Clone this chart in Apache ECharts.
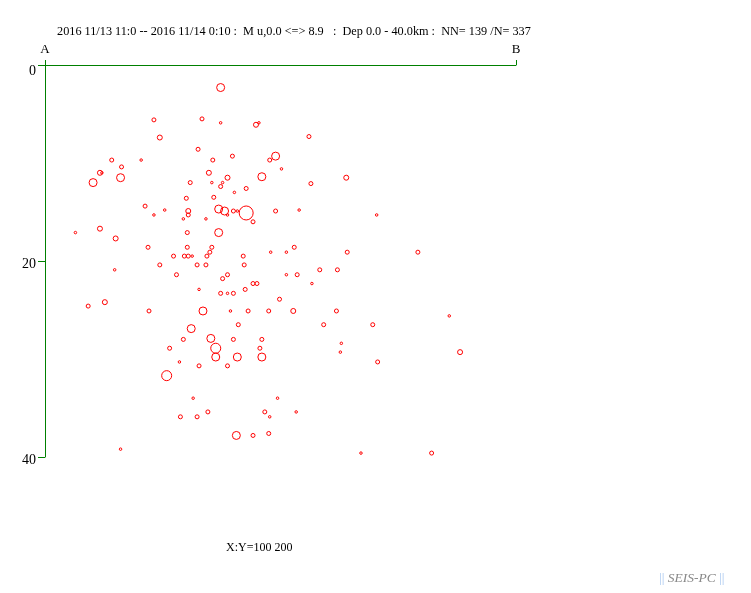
<!DOCTYPE html>
<html>
<head>
<meta charset="utf-8">
<script src="https://cdn.jsdelivr.net/npm/echarts@6/dist/echarts.min.js"></script>
<style>html,body{margin:0;padding:0;background:#fff}#c{width:751px;height:593px}</style>
</head>
<body>
<div id="c"></div>
<script>
// Distance along profile A-B (km)
const distKm = [17.9,11.1,16.0,17.9,21.5,21.8,11.7,15.6,6.8,9.8,17.1,19.1,22.9,5.6,5.8,7.8,7.7,4.9,16.7,18.6,
17.0,18.1,17.9,14.8,19.3,20.5,22.1,14.4,17.2,26.9,23.5,24.1,27.1,30.7,10.2,11.1,12.2,14.6,14.6,14.1,
17.7,18.3,16.4,19.2,19.6,20.5,18.6,21.2,3.1,5.6,7.2,14.5,17.7,10.5,14.5,17.0,16.8,13.1,14.2,14.6,
15.0,16.5,20.2,11.7,15.5,16.4,20.3,7.1,13.4,18.1,18.6,15.7,20.4,21.2,21.6,17.9,18.6,19.2,4.4,6.1,
10.6,16.1,18.9,20.7,22.8,19.7,14.9,23.5,25.9,33.8,25.4,23.0,24.6,30.8,38.0,28.0,29.8,24.6,25.7,27.2,
23.9,25.3,29.7,41.2,28.4,33.4,14.1,16.9,19.2,22.1,12.7,17.4,17.4,19.6,21.9,22.1,13.7,15.7,18.6,12.4,
15.1,16.6,13.8,15.5,22.4,22.9,22.8,19.5,21.2,7.7,30.2,30.1,42.3,33.9,23.7,25.6,32.2,39.4];
// Depth (km)
const depthKm = [2.3,5.6,5.5,5.9,6.1,5.9,7.4,8.6,9.7,9.7,9.7,9.3,9.7,11.0,11.0,10.4,11.5,12.0,11.0,11.5,
12.0,12.0,12.4,12.0,13.0,12.6,11.4,13.6,13.5,7.3,9.3,10.6,12.1,11.5,14.4,15.3,14.8,14.9,15.3,15.7,
14.7,14.9,15.7,14.9,14.9,15.1,15.3,16.0,17.1,16.7,17.7,17.1,17.1,18.6,18.6,18.6,19.1,19.5,19.5,19.5,
19.5,19.5,19.5,20.4,20.4,20.4,20.4,20.9,21.4,21.8,21.4,22.9,22.9,22.3,22.3,23.3,23.3,23.3,24.6,24.2,
25.1,25.1,25.1,25.1,25.1,26.5,26.9,14.9,14.8,15.3,18.6,19.1,19.1,19.1,19.1,20.9,20.9,21.4,21.4,22.3,
23.9,25.1,25.1,25.6,26.5,26.5,28.0,27.9,28.0,28.0,28.9,28.9,29.8,29.8,28.9,29.8,30.3,30.7,30.7,31.7,
34.0,35.4,35.9,35.9,35.4,35.9,37.6,37.8,37.8,39.2,28.4,29.3,29.3,30.3,34.0,35.4,39.6,39.6];
// Magnitude (estimated from circle size)
const mags = [3.5,2,2,1,2.5,1,2.5,2,2,1,2,2,2,2.5,1,2,3.5,3.5,2.5,2.5,
1,1,2,2,1,2,3.5,2,2,2,3.5,1,2,2.5,2,1,1,2.5,2,1,
3.5,3.5,1,2,1,5,1,2,1,2.5,2.5,2,3.5,2,2,2,2,2,2,2,
1,2,2,2,2,2,2,1,2,2,2,1,2,2,2,2,1,2,2,2.5,
2,3.5,1,2,2,2,3.5,2,1,1,2,1,1,2,2,2,2,1,2,1,
2,2.5,2,1,2,2,2,3.5,2,2,2,4,3.5,3.5,2,3.5,1,2,2,4,
1,2,2,2,2,1,2,3.5,2,1,1,1,2.5,2,1,1,1,2];
const yTicks = [0, 20, 40];
const endLabels = ['A', 'B'];
const profileLen = 48;
const titleText = '2016 11/13 11:0 -- 2016 11/14 0:10 :  M u,0.0 <=> 8.9   :  Dep 0.0 - 40.0km :  NN= 139 /N= 337';
const ratioText = 'X:Y=100 200';

function sizeFor(m) {
  if (m >= 5) return 14;
  if (m >= 4) return 10;
  if (m >= 3.5) return 8;
  if (m >= 2.5) return 5;
  if (m >= 2) return 4;
  return 2.5;
}

const data = distKm.map((x, i) => [x, depthKm[i], mags[i]]);
const green = '#008000';
const serif = '"Liberation Serif", "DejaVu Serif", serif';

const chart = echarts.init(document.getElementById('c'), null, {renderer: 'canvas'});
chart.setOption({
  animation: false,
  backgroundColor: '#fff',
  title: {
    text: titleText,
    left: 57, top: 26, padding: 0,
    textStyle: {fontFamily: serif, fontSize: 12.25, fontWeight: 'normal', color: '#000'}
  },
  grid: {left: 45, right: 235, top: 65, bottom: 136, containLabel: false},
  xAxis: {
    type: 'value', position: 'top', min: 0, max: profileLen,
    axisLine: {show: true, lineStyle: {color: green, width: 1}},
    axisTick: {show: true, customValues: [0, profileLen], length: 5, inside: false, lineStyle: {color: green}},
    axisLabel: {
      show: true, customValues: [0, profileLen], margin: 9,
      formatter: v => (v === 0 ? endLabels[0] : endLabels[1]),
      fontFamily: serif, fontSize: 13, color: '#000'
    },
    splitLine: {show: false}
  },
  yAxis: {
    type: 'value', inverse: true, min: 0, max: 40, interval: 20,
    axisLine: {show: true, lineStyle: {color: green, width: 1}},
    axisTick: {show: true, length: 7, inside: false, customValues: yTicks, lineStyle: {color: green}},
    axisLabel: {
      show: true, customValues: yTicks, margin: 9, color: '#000',
      formatter: v => (v === 0 ? '{z|' + v + '}' : '{a|' + v + '}'),
      rich: {
        z: {fontFamily: serif, fontSize: 14, color: '#000', padding: [13, 0, 0, 0]},
        a: {fontFamily: serif, fontSize: 14, color: '#000', padding: [7, 0, 0, 0]}
      }
    },
    splitLine: {show: false}
  },
  graphic: [
    {type: 'text', left: 226, top: 542, style: {text: ratioText, font: '12px ' + serif, fill: '#000'}},
    {type: 'text', left: 659, top: 571, style: {
      text: '{b|||} {g|SEIS-PC} {b|||}',
      rich: {
        b: {fill: '#a8c8f0', font: '13.5px ' + serif},
        g: {fill: '#888', font: 'italic 13.5px ' + serif}
      }
    }}
  ],
  series: [{
    type: 'scatter',
    data: data,
    symbol: 'circle',
    symbolSize: v => sizeFor(v[2]),
    itemStyle: {color: 'rgba(255,255,255,0)', borderColor: '#ff0000', borderWidth: 1, opacity: 1},
    emphasis: {disabled: true},
    silent: true
  }]
});
</script>
</body>
</html>
